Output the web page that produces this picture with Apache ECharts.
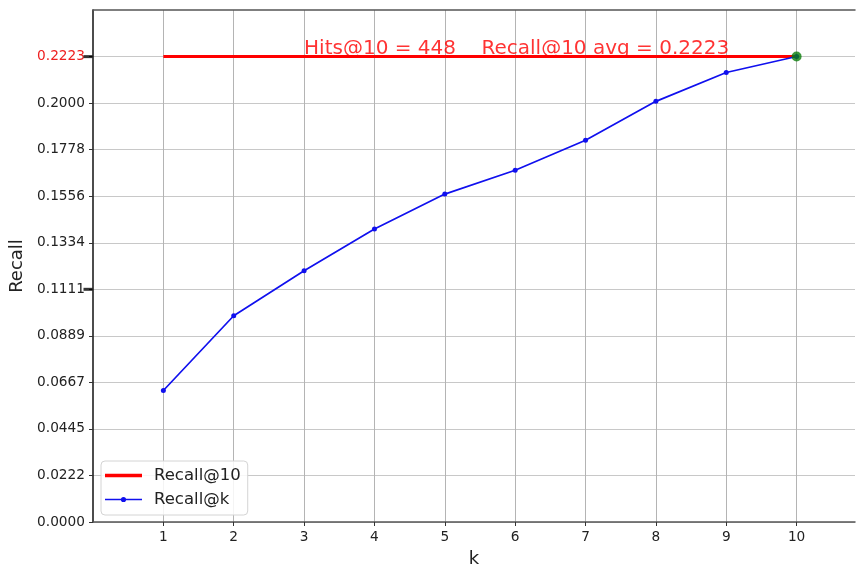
<!DOCTYPE html>
<html>
<head>
<meta charset="utf-8">
<script src="https://cdn.jsdelivr.net/npm/echarts@6/dist/echarts.min.js"></script>
<style>html,body{margin:0;padding:0;background:#fff;}#c{width:856px;height:570px;}</style>
</head>
<body>
<div id="c"></div>
<script>
const ks = [1, 2, 3, 4, 5, 6, 7, 8, 9, 10];
const recallAtK = [0.0628, 0.0985, 0.1200, 0.1399, 0.1566, 0.1680, 0.1823, 0.2009, 0.2147, 0.2223];
const recallAt10 = 0.2223;
const yStep = 0.022226;
const yTickCount = 11;
const highlightTicks = [0.22226, 0.11113];
const annotation = 'Hits@10 = 448    Recall@10 avg = 0.2223';
const annotationK = 3;

const yTicks = Array.from({length: yTickCount}, (_, i) => i * yStep);
const chart = echarts.init(document.getElementById('c'), null, {renderer: 'canvas'});
const font = 'DejaVu Sans';
const redIcon = 'path://M0,0 L0,0 M37,14 L37,14 M0,5.2 L37,5.2 L37,8.8 L0,8.8 Z';
const blueIcon = 'path://M0,0 L0,0 M37,14 L37,14 M0,6.2 L37,6.2 L37,7.8 L0,7.8 Z M18.5,4.4 A2.6,2.6 0 1 1 18.5,9.6 A2.6,2.6 0 1 1 18.5,4.4 Z';
const xMax = 10.83;
const yMax = recallAt10 * 1.1;
const option = {
  backgroundColor: '#fff',
  animation: false,
  grid: {left: 93, right: 1, top: 10, bottom: 48, containLabel: false, outerBoundsMode: 'none'},
  legend: {
    orient: 'vertical', left: 101, top: 461,
    backgroundColor: 'rgba(255,255,255,0.85)', borderColor: '#d4d4d4', borderWidth: 1, borderRadius: 4,
    padding: [6, 7, 7, 4], itemGap: 7, itemWidth: 37, itemHeight: 14,
    textStyle: {fontFamily: font, fontSize: 16.5, color: '#222', lineHeight: 14, padding: [0, 0, 0, 7]},
    data: [
      {name: 'Recall@10', icon: redIcon, itemStyle: {color: '#ff0000'}},
      {name: 'Recall@k', icon: blueIcon, itemStyle: {color: '#1010ee'}}
    ]
  },
  xAxis: [{
    type: 'value', min: 0, max: xMax, interval: 1,
    name: 'k', nameLocation: 'middle', nameGap: 28,
    nameTextStyle: {fontFamily: font, fontSize: 18, color: '#222'},
    axisLine: {show: true, lineStyle: {color: '#555', width: 1.5}},
    axisTick: {show: true, length: 4, lineStyle: {color: '#333'}, customValues: ks},
    axisLabel: {fontFamily: font, fontSize: 13.7, color: '#222', margin: 8, customValues: ks,
      formatter: v => String(v)},
    splitLine: {show: true, lineStyle: {color: '#b4b4b4', width: 1}}
  }, {
    type: 'value', position: 'top', min: 0, max: xMax,
    axisLine: {show: true, lineStyle: {color: '#555', width: 1.5}},
    axisTick: {show: false}, axisLabel: {show: false}, splitLine: {show: false}
  }],
  yAxis: {
    type: 'value', min: 0, max: yMax, interval: yStep,
    name: 'Recall', nameLocation: 'middle', nameGap: 56, nameRotate: 90,
    nameTextStyle: {fontFamily: font, fontSize: 18, color: '#222'},
    axisLine: {show: true, lineStyle: {color: '#111', width: 1.5}},
    axisTick: {show: true, length: 4, lineStyle: {color: '#333'}, customValues: yTicks},
    axisLabel: {fontFamily: font, fontSize: 13.7, color: '#222', margin: 8, customValues: yTicks,
      formatter: v => {
        const s = v.toFixed(4);
        return Math.abs(v - highlightTicks[0]) < 1e-4 ? '{r|' + s + '}' : s;
      },
      rich: {r: {color: '#ee2020', fontFamily: font, fontSize: 13.7}}
    },
    splitLine: {show: true, lineStyle: {color: '#c8c8c8', width: 1}}
  },
  series: [
    {
      name: 'Recall@10', type: 'line', symbol: 'none',
      data: [[ks[0], recallAt10], [ks[ks.length - 1], recallAt10]],
      lineStyle: {color: '#ff0000', width: 3}, itemStyle: {color: '#ff0000'}, z: 3
    },
    {
      name: 'Recall@k', type: 'line', symbol: 'circle', symbolSize: 5,
      data: ks.map((k, i) => [k, recallAtK[i]]),
      lineStyle: {color: '#1010ee', width: 1.7}, itemStyle: {color: '#1010ee'}, z: 4
    },
    {
      name: 'best', type: 'scatter', symbol: 'circle', symbolSize: 10,
      data: [[ks[ks.length - 1], recallAt10]],
      itemStyle: {color: '#0a7d0a'}, z: 6, silent: true
    },
    {
      name: 'note', type: 'scatter', symbolSize: 0,
      data: [[annotationK, recallAt10]],
      label: {show: true, position: [0, 2], align: 'left', verticalAlign: 'bottom',
        formatter: annotation, fontFamily: font, fontSize: 20, color: '#ff0000'},
      z: 7, silent: true
    },
    {
      name: 'marks', type: 'scatter', symbol: 'rect', symbolSize: [9, 3], symbolOffset: [-5, 0],
      data: highlightTicks.map(v => [0, v]), clip: false,
      itemStyle: {color: '#000'}, z: 8, silent: true
    }
  ]
};
chart.setOption(option);
</script>
</body>
</html>
